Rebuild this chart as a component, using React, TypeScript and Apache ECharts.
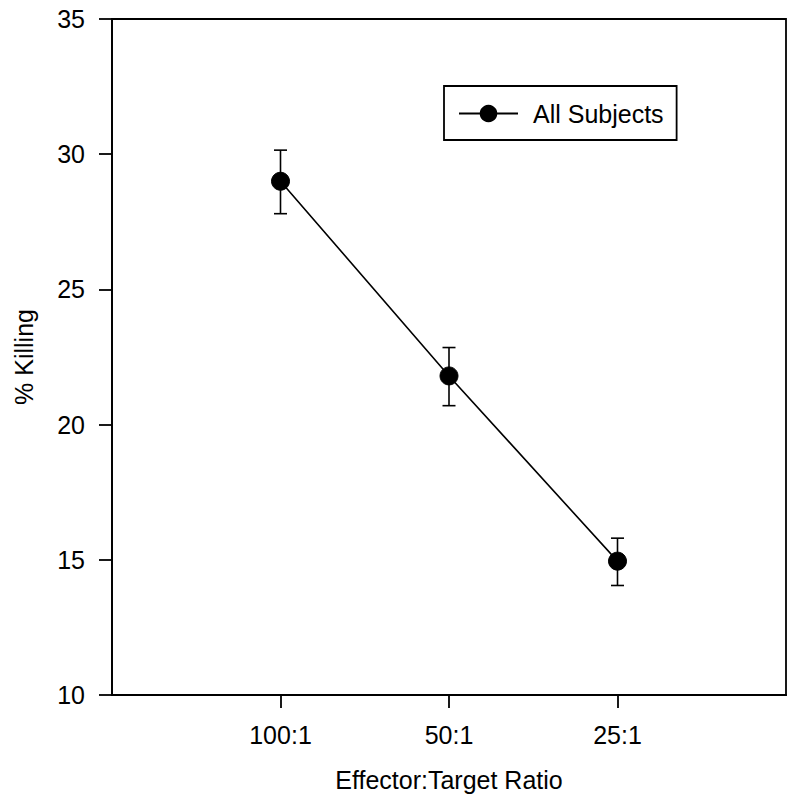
import React, { useEffect, useRef } from "react";
import * as echarts from "echarts";

const categories = ["100:1", "50:1", "25:1"];
const seriesName = "All Subjects";
const meanValues = [29.0, 21.8, 14.95];
const upperValues = [30.15, 22.85, 15.8];
const lowerValues = [27.8, 20.7, 14.05];
const yTicks = { min: 10, max: 35, interval: 5 };

const FONT = "'Liberation Sans', Arial, Helvetica, sans-serif";

export default function App() {
  const ref = useRef<HTMLDivElement>(null);
  useEffect(() => {
    if (!ref.current) return;
    const chart = echarts.init(ref.current, null, { renderer: "svg" });
    const axisData = ["", ...categories, ""];
    const lineData = meanValues.map((v, i) => [i + 1, v]);
    const errData = meanValues.map((_, i) => [i + 1, lowerValues[i], upperValues[i]]);
    chart.setOption({
      animation: false,
      backgroundColor: "#fff",
      textStyle: { fontFamily: FONT },
      grid: {
        left: 112,
        right: 14,
        top: 19,
        bottom: 112,
        show: true,
        borderColor: "#000",
        borderWidth: 1.8,
        backgroundColor: "transparent",
      },
      legend: {
        show: true,
        data: [seriesName],
        left: 444,
        top: 86,
        width: 236,
        padding: [15, 13, 14, 14],
        borderColor: "#000",
        borderWidth: 1.8,
        borderRadius: 0,
        itemWidth: 59,
        itemHeight: 22,
        itemGap: 0,
        textStyle: { fontSize: 25, color: "#000", fontFamily: FONT, padding: [0, 0, 0, 10] },
      },
      xAxis: {
        type: "category",
        boundaryGap: false,
        data: axisData,
        name: "Effector:Target Ratio",
        nameLocation: "middle",
        nameGap: 72,
        nameTextStyle: { fontSize: 25, color: "#000", fontFamily: FONT },
        axisLine: { lineStyle: { color: "#000", width: 1.8 } },
        axisTick: {
          show: true,
          inside: false,
          length: 13,
          interval: (index: number) => index >= 1 && index <= categories.length,
          lineStyle: { color: "#000", width: 1.8 },
        },
        axisLabel: { fontSize: 25, color: "#000", margin: 27, interval: 0, fontFamily: FONT },
        splitLine: { show: false },
      },
      yAxis: {
        type: "value",
        min: yTicks.min,
        max: yTicks.max,
        interval: yTicks.interval,
        name: "% Killing",
        nameLocation: "middle",
        nameGap: 76,
        nameTextStyle: { fontSize: 25, color: "#000", fontFamily: FONT },
        axisLine: { show: true, lineStyle: { color: "#000", width: 1.8 } },
        axisTick: { show: true, inside: false, length: 13, lineStyle: { color: "#000", width: 1.8 } },
        axisLabel: { fontSize: 25, color: "#000", margin: 27, fontFamily: FONT },
        splitLine: { show: false },
      },
      series: [
        {
          type: "custom",
          name: "errors",
          data: errData,
          z: 1,
          renderItem: (params: any, api: any) => {
            const x = api.value(0);
            const lo = api.coord([x, api.value(1)]);
            const hi = api.coord([x, api.value(2)]);
            const hw = 6.5;
            const style = { stroke: "#000", lineWidth: 1.6 };
            return {
              type: "group",
              children: [
                { type: "line", shape: { x1: lo[0], y1: lo[1], x2: hi[0], y2: hi[1] }, style },
                { type: "line", shape: { x1: lo[0] - hw, y1: lo[1], x2: lo[0] + hw, y2: lo[1] }, style },
                { type: "line", shape: { x1: hi[0] - hw, y1: hi[1], x2: hi[0] + hw, y2: hi[1] }, style },
              ],
            };
          },
        },
        {
          type: "line",
          name: seriesName,
          data: lineData,
          z: 3,
          symbol: "circle",
          symbolSize: 18,
          showSymbol: true,
          itemStyle: { color: "#000", borderColor: "#000" },
          lineStyle: { color: "#000", width: 1.6 },
        },
      ],
    });
    return () => chart.dispose();
  }, []);
  return <div ref={ref} style={{ width: 800, height: 807, position: "absolute", left: 0, top: 0 }} />;
}
